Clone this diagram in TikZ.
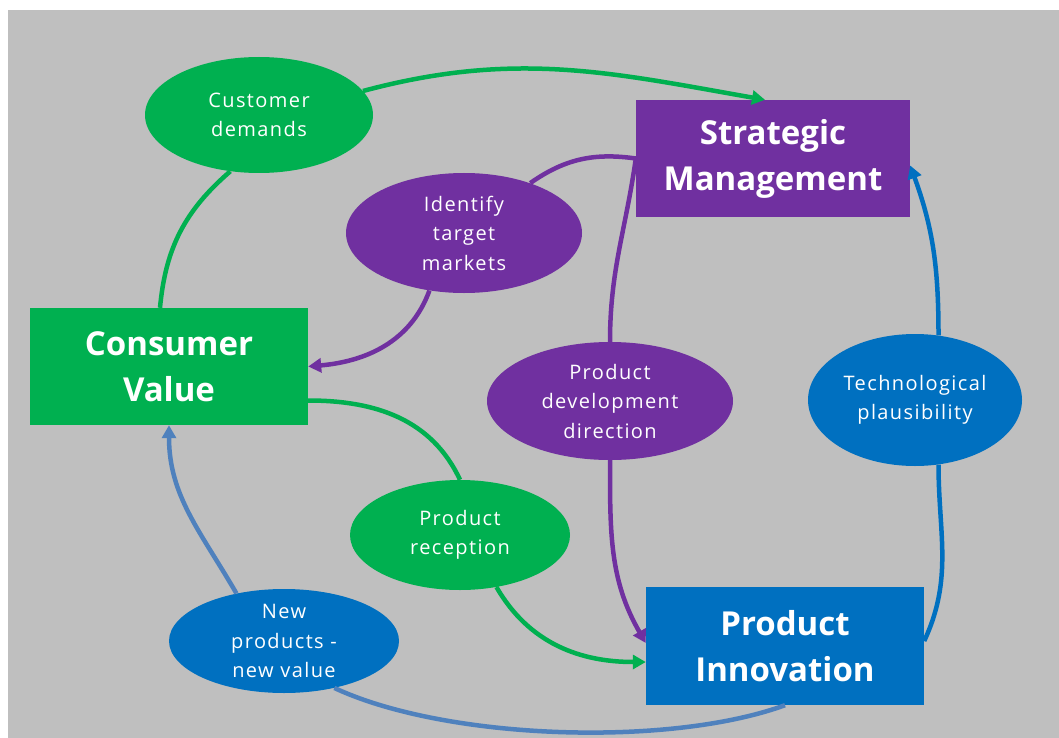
\documentclass[tikz,border=0pt]{standalone}
\usepackage{fontspec}
\setmainfont{Open Sans}
\newfontfamily\ovalfont[LetterSpace=7]{Open Sans}
\usepackage{tikz}
\usetikzlibrary{arrows.meta}
\usetikzlibrary{shapes.geometric}
\definecolor{cvgreen}{HTML}{00B050}
\definecolor{smpurple}{HTML}{7030A0}
\definecolor{piblue}{HTML}{0070C0}
\definecolor{nvblue}{HTML}{4F81BD}
\definecolor{bggray}{HTML}{BFBFBF}

\begin{document}
\begin{tikzpicture}[x=1pt,y=-1pt,
	box/.style={rectangle,text=white,align=center,inner sep=0pt,font=\fontsize{33}{46}\selectfont\bfseries},
	oval/.style={ellipse,text=white,align=center,inner sep=0pt,font=\fontsize{20}{29.5}\selectfont\ovalfont},
	link/.style={line width=4.5pt},
	tip/.style={-{Triangle[length=13pt,width=14pt]}}]
	
	\useasboundingbox (0,0) rectangle (1059,738);
	\fill[white] (0,0) rectangle (1059,738);
	\fill[bggray] (8,10) rectangle (1059,738);
	
	\node[box,fill=cvgreen,minimum width=278pt,minimum height=117pt] (cv) at (169,366.5) {Consumer\\Value};
	\node[box,fill=smpurple,minimum width=274pt,minimum height=117pt] (sm) at (773,158.5) {Strategic\\Management};
	\node[box,fill=piblue,minimum width=278pt,minimum height=118pt] (pi) at (785,646) {Product\\Innovation};
	
	\node[oval,fill=cvgreen,minimum width=228pt,minimum height=116pt] (cd) at (259,115) {Customer\\demands};
	\node[oval,fill=smpurple,minimum width=236pt,minimum height=120pt] (itm) at (464,233) {Identify\\target\\markets};
	\node[oval,fill=smpurple,minimum width=246pt,minimum height=118pt] (pdd) at (610,401) {Product\\development\\direction};
	\node[oval,fill=piblue,minimum width=214pt,minimum height=132pt] (tp) at (915,400) {Technological\\plausibility};
	\node[oval,fill=cvgreen,minimum width=220pt,minimum height=110pt] (pr) at (460,535) {Product\\reception};
	\node[oval,fill=piblue,minimum width=230pt,minimum height=104pt] (np) at (284,641) {New\\products -\\new value};
	
	\draw[link,cvgreen] ([xshift=-9pt]cv.north) to[bend left=22] (cd.243);
	\draw[link,cvgreen,tip] (cd.13) to[out=15,in=170] ([xshift=-8pt]sm.north);
	\draw[link,smpurple] (sm.west) to[out=172,in=35] (itm.37);
	\draw[link,smpurple,tip] (itm.239) to[out=250,in=5] (cv.east);
	\draw[link,smpurple] (sm.west) to[out=262,in=90] (pdd.north);
	\draw[link,smpurple,tip] (pdd.south) to[out=270,in=120] ([yshift=3pt]pi.west);
	\draw[link,cvgreen] ([yshift=-34pt]cv.east) to[out=0,in=115] (pr.north);
	\draw[link,cvgreen,tip] (pr.305) to[out=300,in=180] ([yshift=-16pt]pi.west);
	\draw[link,piblue] ([yshift=5pt]pi.east) to[out=65,in=270] (tp.290);
	\draw[link,piblue,tip] (tp.70) to[out=90,in=290] ([yshift=-7pt]sm.east);
	\draw[link,nvblue] (pi.south) to[out=200,in=335,looseness=0.7] (np.317);
	\draw[link,nvblue,tip] (np.135) to[out=120,in=270] (cv.south);
	
\end{tikzpicture}
\end{document}
